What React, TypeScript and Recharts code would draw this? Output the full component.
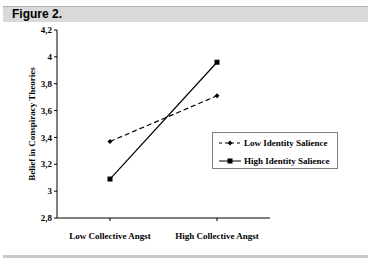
import { LineChart, Line, XAxis, YAxis } from "recharts"

const categories = ["Low Collective Angst", "High Collective Angst"]
const lowIdentity = [3.37, 3.71]
const highIdentity = [3.09, 3.96]
const yTicks = [2.8, 3, 3.2, 3.4, 3.6, 3.8, 4, 4.2]

const data = categories.map((name, i) => ({
  name,
  low: lowIdentity[i],
  high: highIdentity[i],
}))

const serif = "'Liberation Serif', 'Times New Roman', serif"

const fmt = (v: number) => String(Number(v.toFixed(1))).replace(".", ",")

const Diamond = (props: any) => {
  const { cx, cy } = props
  if (cx == null || cy == null) return null
  return <path d={`M${cx},${cy - 2.5} L${cx + 2.5},${cy} L${cx},${cy + 2.5} L${cx - 2.5},${cy} Z`} fill="#000" />
}

const Square = (props: any) => {
  const { cx, cy } = props
  if (cx == null || cy == null) return null
  return <rect x={cx - 2.5} y={cy - 2.5} width={5} height={5} fill="#000" />
}

const CatTick = (props: any) => {
  const { x, y, payload } = props
  return (
    <text x={x} y={y + 16} textAnchor="middle" fontFamily={serif} fontWeight="bold" fontSize={9} fill="#000">
      {payload.value}
    </text>
  )
}

const LegendBox = () => (
  <div
    style={{
      position: "absolute",
      left: 212,
      top: 132,
      border: "1px solid #808080",
      width: 126,
      height: 37,
      boxSizing: "border-box",
      fontFamily: serif,
      fontWeight: "bold",
      fontSize: 9,
      color: "#000",
      padding: "3px 0 0 6px",
    }}
  >
    <div style={{ display: "flex", alignItems: "center", height: 14 }}>
      <svg width={22} height={6} style={{ marginRight: 3 }}>
        <line x1={0} y1={3} x2={22} y2={3} stroke="#000" strokeDasharray="3 3" />
        <path d="M11,0.5 L13.5,3 L11,5.5 L8.5,3 Z" fill="#000" />
      </svg>
      Low Identity Salience
    </div>
    <div style={{ display: "flex", alignItems: "center", height: 14, marginTop: 4 }}>
      <svg width={22} height={6} style={{ marginRight: 3 }}>
        <line x1={0} y1={3} x2={22} y2={3} stroke="#000" />
        <rect x={8.5} y={0.5} width={5} height={5} fill="#000" />
      </svg>
      High Identity Salience
    </div>
  </div>
)

export default function App() {
  return (
    <div style={{ position: "absolute", left: 0, top: 0, width: 388, height: 264, background: "#fff" }}>
      <div
        style={{
          position: "absolute",
          left: 3,
          top: 6,
          width: 365,
          height: 16,
          background: "#d9d9d9",
          borderTop: "1px solid #b0b0b0",
          boxSizing: "border-box",
          fontFamily: "Arial, 'Liberation Sans', sans-serif",
          fontWeight: "bold",
          fontSize: 12,
          lineHeight: "15px",
          paddingLeft: 9,
          color: "#000",
        }}
      >
        Figure 2.
      </div>
      <div
        style={{
          position: "absolute",
          left: 3,
          top: 255,
          width: 365,
          height: 3,
          background: "#c8c8c8",
        }}
      />
      <LineChart
        width={388}
        height={264}
        data={data}
        margin={{ top: 30, right: 118, bottom: 26, left: 0 }}
        style={{ position: "absolute", left: 0, top: 0 }}
      >
        <XAxis
          dataKey="name"
          padding={{ left: 53, right: 53 }}
          axisLine={{ stroke: "#7f7f7f", strokeWidth: 2 }}
          tickLine={{ stroke: "#000" }}
          tickSize={3}
          height={20}
          interval={0}
          tick={<CatTick />}
        />
        <YAxis
          width={57}
          domain={[2.8, 4.2]}
          ticks={yTicks}
          tickFormatter={fmt}
          axisLine={{ stroke: "#000" }}
          tickLine={{ stroke: "#000" }}
          tickSize={3}
          tick={{ fontFamily: serif, fontWeight: "bold", fontSize: 9, fill: "#000" }}
          label={{
            value: "Belief in Conspiracy Theories",
            angle: -90,
            position: "insideLeft",
            offset: 0,
            dx: 32,
            style: { fontFamily: serif, fontWeight: "bold", fontSize: 9, fill: "#000", textAnchor: "middle" },
          }}
        />
        <Line
          dataKey="low"
          name="Low Identity Salience"
          stroke="#000"
          strokeWidth={1.2}
          strokeDasharray="5 3"
          dot={<Diamond />}
          isAnimationActive={false}
        />
        <Line
          dataKey="high"
          name="High Identity Salience"
          stroke="#000"
          strokeWidth={1.2}
          dot={<Square />}
          isAnimationActive={false}
        />
      </LineChart>
      <LegendBox />
    </div>
  )
}
